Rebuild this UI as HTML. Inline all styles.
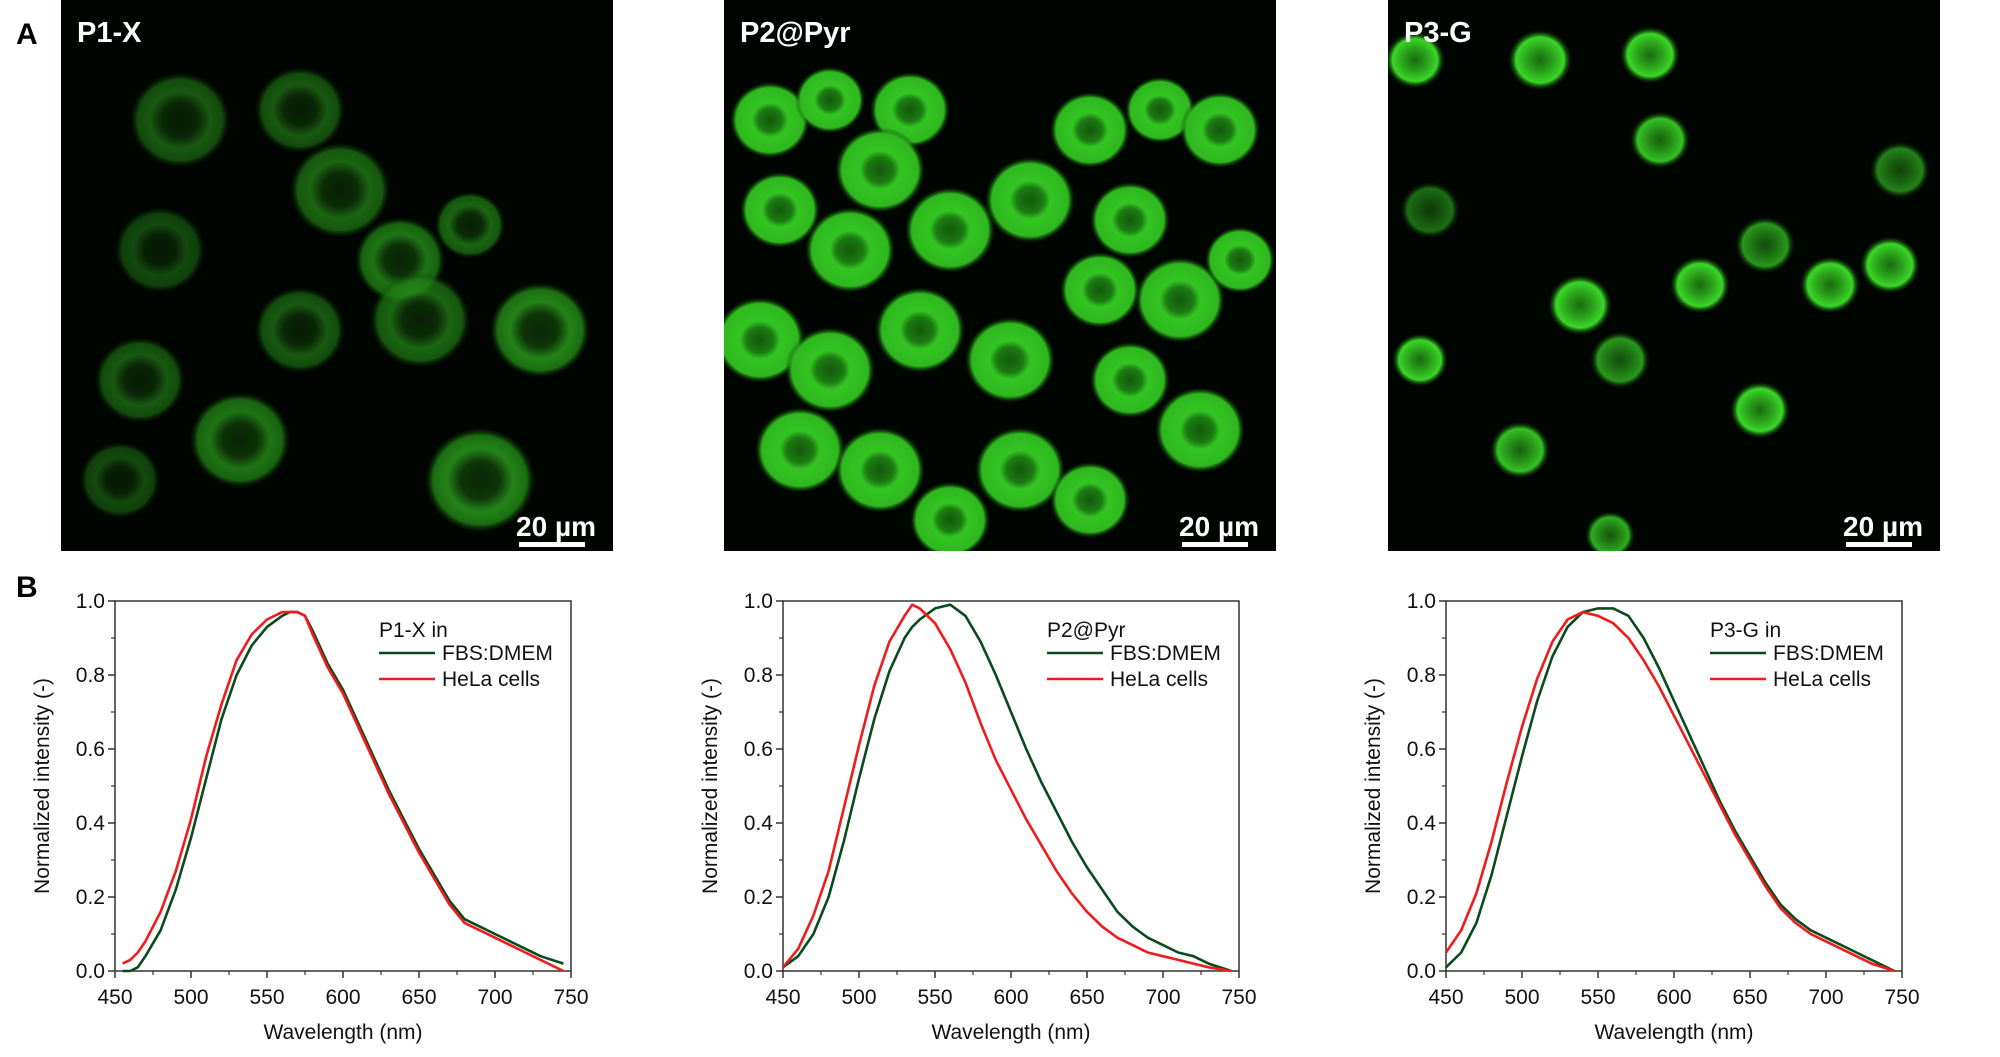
<!DOCTYPE html>
<html><head><meta charset="utf-8"><style>
body{margin:0;background:#fff;width:2000px;height:1057px;overflow:hidden;font-family:"Liberation Sans",sans-serif}
svg{position:absolute;left:0;top:0}
</style></head><body>
<svg id="fig" width="2000" height="1057" viewBox="0 0 2000 1057">
<defs>
<radialGradient id="cell1" cx="50%" cy="50%" r="50%"><stop offset="0" stop-color="#0b2a06"/><stop offset="0.35" stop-color="#0f3a09"/><stop offset="0.6" stop-color="#27901a"/><stop offset="0.85" stop-color="#1e7a14"/><stop offset="1" stop-color="#0a3005" stop-opacity="0"/></radialGradient>
<radialGradient id="cell2" cx="50%" cy="50%" r="50%"><stop offset="0" stop-color="#145a0c"/><stop offset="0.3" stop-color="#1c7a12"/><stop offset="0.45" stop-color="#33c422"/><stop offset="0.85" stop-color="#2fb81f"/><stop offset="1" stop-color="#0a3005" stop-opacity="0"/></radialGradient>
<radialGradient id="cell3" cx="50%" cy="50%" r="50%"><stop offset="0" stop-color="#1a6a10"/><stop offset="0.4" stop-color="#2aa01a"/><stop offset="0.75" stop-color="#3ad628"/><stop offset="1" stop-color="#0a3005" stop-opacity="0"/></radialGradient>
</defs>
<g id="micro"></g>
<g id="charts"></g>
</svg>
<script>
// ---- chart data ----
const wl1 = [455,460,465,470,480,490,500,510,520,530,540,550,560,565,570,575,580,590,600,610,620,630,640,650,660,670,680,690,700,710,720,730,745];
const p1Fbs = [0.0,0.0,0.01,0.04,0.11,0.22,0.36,0.52,0.68,0.80,0.88,0.93,0.96,0.97,0.97,0.96,0.92,0.83,0.76,0.67,0.58,0.49,0.41,0.33,0.26,0.19,0.14,0.12,0.10,0.08,0.06,0.04,0.02];
const p1Hela = [0.02,0.03,0.05,0.08,0.16,0.27,0.41,0.58,0.72,0.84,0.91,0.95,0.97,0.97,0.97,0.96,0.91,0.82,0.75,0.66,0.57,0.48,0.40,0.32,0.25,0.18,0.13,0.11,0.09,0.07,0.05,0.03,0.0];
const wl2 = [450,460,470,480,490,500,510,520,530,535,540,550,560,570,580,590,600,610,620,630,640,650,660,670,680,690,700,710,720,730,745];
const p2Fbs = [0.01,0.04,0.10,0.20,0.35,0.52,0.68,0.81,0.90,0.93,0.95,0.98,0.99,0.96,0.89,0.80,0.70,0.60,0.51,0.43,0.35,0.28,0.22,0.16,0.12,0.09,0.07,0.05,0.04,0.02,0.0];
const p2Hela = [0.01,0.06,0.15,0.27,0.44,0.61,0.77,0.89,0.96,0.99,0.98,0.94,0.87,0.78,0.67,0.57,0.49,0.41,0.34,0.27,0.21,0.16,0.12,0.09,0.07,0.05,0.04,0.03,0.02,0.01,0.0];
const wl3 = [450,460,470,480,490,500,510,520,530,540,550,560,570,580,590,600,610,620,630,640,650,660,670,680,690,700,710,720,730,745];
const p3Fbs = [0.01,0.05,0.13,0.26,0.42,0.58,0.73,0.85,0.93,0.97,0.98,0.98,0.96,0.90,0.82,0.73,0.64,0.55,0.46,0.38,0.31,0.24,0.18,0.14,0.11,0.09,0.07,0.05,0.03,0.0];
const p3Hela = [0.05,0.11,0.21,0.35,0.51,0.66,0.79,0.89,0.95,0.97,0.96,0.94,0.90,0.84,0.77,0.69,0.61,0.53,0.45,0.37,0.30,0.23,0.17,0.13,0.10,0.08,0.06,0.04,0.02,0.0];
const xTicks = [450,500,550,600,650,700,750];
const yTicks = [0.0,0.2,0.4,0.6,0.8,1.0];
const legendTitles = ["P1-X in","P2@Pyr","P3-G in"];
const seriesNames = ["FBS:DMEM","HeLa cells"];

const NS="http://www.w3.org/2000/svg";
function mk(tag,attrs,parent){const e=document.createElementNS(NS,tag);for(const k in attrs)e.setAttribute(k,attrs[k]);parent.appendChild(e);return e;}

// ---- microscopy panels ----
const micro=document.getElementById('micro');
const panelX=[61,724,1388], panelNames=["P1-X","P2@Pyr","P3-G"];
const cells=[
 [[180,120,50,0.6],[300,110,45,0.6],[340,190,50,0.7],[400,260,45,0.8],[470,225,35,0.7],[160,250,45,0.5],[300,330,45,0.6],[420,320,50,0.7],[540,330,50,0.9],[140,380,45,0.6],[240,440,50,0.8],[480,480,55,0.9],[120,480,40,0.5]],
 [[770,120,40,1],[830,100,35,1],[910,110,40,1],[880,170,45,1],[780,210,40,1],[850,250,45,1],[950,230,45,1],[1030,200,45,1],[1090,130,40,1],[1160,110,35,1],[1220,130,40,1],[1130,220,40,1],[1100,290,40,1],[1180,300,45,1],[1240,260,35,1],[760,340,45,1],[830,370,45,1],[920,330,45,1],[1010,360,45,1],[1130,380,40,1],[1200,430,45,1],[800,450,45,1],[880,470,45,1],[1020,470,45,1],[1090,500,40,1],[950,520,40,1]],
 [[1415,60,30,1],[1540,60,32,1],[1650,55,30,1],[1660,140,30,0.9],[1900,170,30,0.6],[1430,210,30,0.5],[1765,245,30,0.7],[1580,305,32,1],[1700,285,30,1],[1830,285,30,1],[1890,265,30,1],[1620,360,30,0.7],[1420,360,28,1],[1760,410,30,1],[1520,450,30,0.9],[1610,535,25,0.8]]
];
for(let p=0;p<3;p++){
  const g=mk('g',{},micro);
  
  
  mk('rect',{x:panelX[p],y:0,width:552,height:551,fill:'#010501'},g);
  const clip=mk('clipPath',{id:'c'+p},g);mk('rect',{x:panelX[p],y:0,width:552,height:551},clip);
  const cg=mk('g',{'clip-path':'url(#c'+p+')'},g);
  cells[p].forEach(c=>{const e=mk('ellipse',{cx:c[0],cy:c[1],rx:c[2],ry:c[2]*0.95,fill:'url(#cell'+(p+1)+')',opacity:c[3]},cg);});
  const t=mk('text',{x:panelX[p]+16,y:42,fill:'#fff','font-size':29,'font-weight':'bold'},g);t.textContent=panelNames[p];
  
  const sb=mk('text',{x:panelX[p]+535,y:536,fill:'#fff','font-size':28,'font-weight':'bold','text-anchor':'end'},g);sb.textContent="20 µm";
  
  const bar=mk('rect',{x:panelX[p]+458,y:542,width:66,height:5,fill:'#fff'},g);
  
}
const la=mk('text',{x:16,y:44,'font-size':30,'font-weight':'bold'},micro);la.textContent="A";

const lb=mk('text',{x:16,y:597,'font-size':30,'font-weight':'bold'},micro);lb.textContent="B";


// ---- charts ----
const charts=document.getElementById('charts');
const plotL=[115,783,1446], plotW=456, plotT=601, plotB=971;
const data=[[wl1,p1Fbs,p1Hela],[wl2,p2Fbs,p2Hela],[wl3,p3Fbs,p3Hela]];
const colors=["#0b4a1c","#ee1c1c"];
for(let c=0;c<3;c++){
  const L=plotL[c],R=L+plotW;
  const xs=v=>L+(v-450)/300*plotW, ys=v=>plotB-v*(plotB-plotT);
  const g=mk('g',{},charts);
  
  
  const fr=mk('rect',{x:L,y:plotT,width:plotW,height:plotB-plotT,fill:'none',stroke:'#333','stroke-width':1.5},g);
  
  xTicks.forEach(v=>{
    mk('line',{x1:xs(v),x2:xs(v),y1:plotB,y2:plotB+7,stroke:'#333','stroke-width':1.5},g);
    if(v<750)mk('line',{x1:xs(v+25),x2:xs(v+25),y1:plotB,y2:plotB+4,stroke:'#333','stroke-width':1.2},g);
    const t=mk('text',{x:xs(v),y:plotB+33,'font-size':21,'text-anchor':'middle',fill:'#111'},g);t.textContent=v;
    
  });
  yTicks.forEach(v=>{
    mk('line',{x1:L-7,x2:L,y1:ys(v),y2:ys(v),stroke:'#333','stroke-width':1.5},g);
    if(v<1)mk('line',{x1:L-4,x2:L,y1:ys(v+0.1),y2:ys(v+0.1),stroke:'#333','stroke-width':1.2},g);
    const t=mk('text',{x:L-10,y:ys(v)+7,'font-size':21,'text-anchor':'end',fill:'#111'},g);t.textContent=v.toFixed(1);
    
  });
  const xt=mk('text',{x:L+plotW/2,y:1039,'font-size':21,'text-anchor':'middle',fill:'#111'},g);xt.textContent="Wavelength (nm)";
  
  const yt=mk('text',{x:0,y:0,'font-size':21,'text-anchor':'middle',fill:'#111',transform:`translate(${L-66},${(plotT+plotB)/2}) rotate(-90)`},g);yt.textContent="Normalized intensity (-)";
  
  const [wl,a,b]=data[c];
  [a,b].forEach((s,i)=>{
    const d=s.map((v,k)=>(k?'L':'M')+xs(wl[k]).toFixed(1)+','+ys(v).toFixed(1)).join('');
    const p=mk('path',{d:d,fill:'none',stroke:colors[i],'stroke-width':2.6,'stroke-linejoin':'round'},g);
    
    
  });
  const lx=L+264;
  const lt=mk('text',{x:lx,y:637,'font-size':21,fill:'#111'},g);lt.textContent=legendTitles[c];
  
  seriesNames.forEach((n,i)=>{
    const y=653+i*26;
    mk('line',{x1:lx,x2:lx+56,y1:y,y2:y,stroke:colors[i],'stroke-width':2.6},g);
    const t=mk('text',{x:lx+63,y:y+7,'font-size':21,fill:'#111'},g);t.textContent=n;
    
  });
}
</script>
</body></html>
